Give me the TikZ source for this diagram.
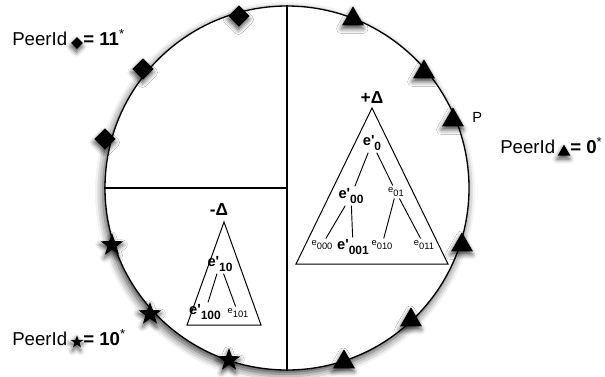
\documentclass[tikz,border=0pt]{standalone}
\usepackage{fontspec}
\setmainfont{Liberation Sans}
\usetikzlibrary{positioning, shapes.geometric, shadows.blur}
\newcommand{\ekey}[1]{e\textquotesingle\raisebox{-3.5pt}{\fontsize{9}{9}\selectfont #1}}
\newcommand{\eleaf}[1]{e\raisebox{-2.5pt}{#1}}

\begin{document}
\begin{tikzpicture}[x=0.75pt, y=-0.75pt,
  softshadow/.style={blur shadow={shadow xshift=-0.5pt, shadow yshift=-2.5pt, shadow blur radius=3.5pt, shadow opacity=70}},
  peerdiamond/.style={diamond, fill=black, inner sep=0pt, minimum size=16pt, softshadow},
  peerstar/.style={star, star points=5, star point ratio=2.5, fill=black, inner sep=0pt, minimum size=18pt, softshadow},
  peertri/.style={regular polygon, regular polygon sides=3, fill=black, inner sep=0pt, minimum size=19pt, softshadow},
  keytext/.style={inner sep=1.5pt, font=\bfseries\fontsize{11}{12}\selectfont},
  leaftext/.style={inner sep=1.5pt, font=\fontsize{7}{8}\selectfont},
  idtext/.style={anchor=base west, inner sep=0pt, font=\fontsize{14}{16}\selectfont},
  idvalue/.style={anchor=base west, inner sep=0pt, font=\bfseries\fontsize{14}{16}\selectfont},
  deltatext/.style={inner sep=0pt, font=\bfseries\fontsize{13}{14}\selectfont},
  treeedge/.style={line width=0.7pt}]
  \useasboundingbox (0,0) rectangle (605,376);

  % ring of peers
  \node[circle, draw, line width=1pt, fill=white, minimum size=273pt, inner sep=0pt,
        blur shadow={shadow xshift=-1.5pt, shadow yshift=-3pt, shadow blur radius=6pt, shadow opacity=75}] (ring) at (287,188) {};
  \draw[line width=0.9pt] (ring.north) -- (ring.south);
  \draw[line width=0.9pt] (ring.west) -- (ring.center);

  % peers 11*
  \node[peerdiamond] (dia1) at (239,16) {};
  \node[peerdiamond] (dia2) at (143,69) {};
  \node[peerdiamond] (dia3) at (105,139) {};
  % peers 10*
  \node[peerstar] (sta1) at (112,245) {};
  \node[peerstar] (sta2) at (150,314) {};
  \node[peerstar] (sta3) at (229,360) {};
  % peers 0*
  \node[peertri] (tri1) at (353,19) {};
  \node[peertri] (tri2) at (424,72) {};
  \node[peertri] (tri3) at (453,120) {};
  \node[peertri] (tri4) at (462,245) {};
  \node[peertri] (tri5) at (411,320) {};
  \node[peertri] (tri6) at (344,362) {};
  \node[anchor=west, inner sep=0pt, font=\fontsize{11}{12}\selectfont] (ptag) at (472,117) {P};

  % +Delta tree
  \node[deltatext] (plusd) at (372,98) {+Δ};
  \draw[line width=0.75pt] (372,108) -- (448,264) -- (296,264) -- cycle;
  \node[keytext] (e0) at (372,143) {\ekey{0}};
  \node[keytext] (e00) at (351,196) {\ekey{00}};
  \node[leaftext] (e01) at (396,192) {\eleaf{01}};
  \node[leaftext] (e000) at (322,245) {\eleaf{000}};
  \node[keytext] (e001) at (353,247) {\ekey{001}};
  \node[leaftext] (e010) at (382,245) {\eleaf{010}};
  \node[leaftext] (e011) at (424,245) {\eleaf{011}};
  \draw[treeedge] (e0) -- (e00);
  \draw[treeedge] (e0) -- (e01);
  \draw[treeedge] (e00) -- (e000);
  \draw[treeedge] (e00) -- (e001);
  \draw[treeedge] (e01) -- (e010);
  \draw[treeedge] (e01) -- (e011);

  % -Delta tree
  \node[deltatext] (minusd) at (219,210) {-Δ};
  \draw[line width=0.75pt] (224,222) -- (261,325) -- (187,325) -- cycle;
  \node[keytext] (e10) at (220,264) {\ekey{10}};
  \node[keytext] (e100) at (205,312) {\ekey{100}};
  \node[leaftext] (e101) at (238,313) {\eleaf{101}};
  \draw[treeedge] (e10) -- (e100);
  \draw[treeedge] (e10) -- (e101);

  % legend
  \node[idtext] (idd) at (12,45) {PeerId};
  \node[peerdiamond, minimum size=9pt] (keyd) at (77,43) {};
  \node[idvalue] (vald) at (83,45) {= 11\textsuperscript{\mdseries *}};

  \node[idtext] (idt) at (500,153) {PeerId};
  \node[peertri, minimum size=11pt] (keyt) at (564,152) {};
  \node[idvalue] (valt) at (570,153) {= 0\textsuperscript{\mdseries *}};

  \node[idtext] (ids) at (12,345) {PeerId};
  \node[peerstar, minimum size=10pt] (keys) at (77,342) {};
  \node[idvalue] (vals) at (83,345) {= 10\textsuperscript{\mdseries *}};
\end{tikzpicture}
\end{document}
